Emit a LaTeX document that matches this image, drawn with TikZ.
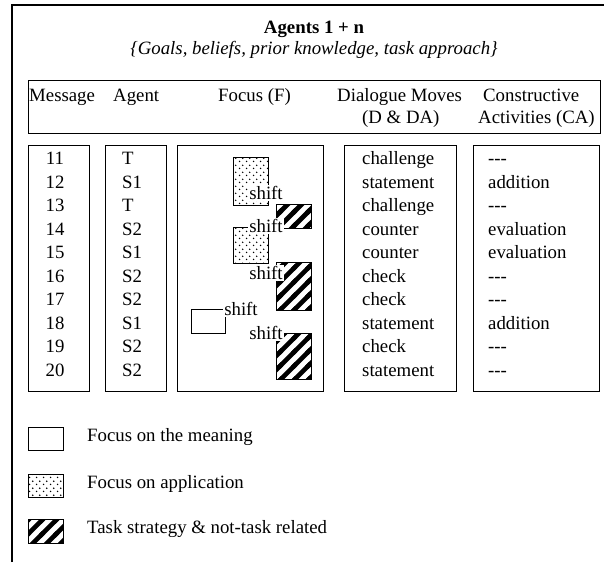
\documentclass[tikz,border=0pt]{standalone}
\usepackage{fontspec}
\setmainfont{Liberation Serif}
\usetikzlibrary{patterns.meta}

% sparse staggered dots for "focus on application"
\tikzdeclarepattern{
  name=sparsedots,
  type=uncolored,
  bounding box={(0pt,0pt) and (7pt,7pt)},
  tile size={(7pt,7pt)},
  code={\fill (1.75pt,1.75pt) circle (0.9pt); \fill (5.25pt,5.25pt) circle (0.9pt);}
}
% heavy diagonal stripes for "task strategy"
\tikzdeclarepattern{
  name=widestripes,
  type=uncolored,
  bounding box={(-3pt,-3pt) and (17pt,17pt)},
  tile size={(14pt,14pt)},
  code={\draw[line width=4.6pt] (-3pt,-3pt) -- (17pt,17pt);}
}

\newcommand\bodysize{\fontsize{18.8}{23.5}\selectfont}
\newcommand\nodash{-{}-{}-}

\tikzset{
  frameline/.style={line width=1.4pt},
  colbox/.style={draw, line width=1.3pt, anchor=north west, inner sep=0pt},
  txt/.style={font=\bodysize, inner sep=0pt, anchor=base west},
  num/.style={font=\bodysize, inner sep=0pt, anchor=base},
  plainbox/.style={draw, line width=1.3pt, fill=white, anchor=north west, inner sep=0pt},
  dotbox/.style={plainbox, pattern=sparsedots},
  stripebox/.style={plainbox, pattern=widestripes},
  shiftlabel/.style={font=\bodysize, fill=white, inner sep=1.2pt},
}

\begin{document}
\begin{tikzpicture}[x=1pt, y=-1pt]
\useasboundingbox (0,0) rectangle (604,562);

% open outer frame (left and top sides only)
\draw[frameline] (12,562) -- (12,5) -- (604,5);

% title block
\node[font=\bodysize\bfseries, inner sep=0pt, anchor=base] (title) at (314,33) {Agents 1 + n};
\node[font=\bodysize\itshape, inner sep=0pt, anchor=base] (subtitle) at (314,54)
  {\{Goals, beliefs, prior knowledge, task approach\}};

% column header box
\node[colbox, minimum width=572, minimum height=53] (head) at (28,80) {};
\node[txt] (hmsg) at (29,101) {Message};
\node[txt] (hagent) at (113,101) {Agent};
\node[txt] (hfocus) at (218,101) {Focus (F)};
\node[txt] (hdlg) at (337,101) {Dialogue Moves};
\node[txt] (hdlg2) at (362,123) {(D \& DA)};
\node[txt] (hca) at (483,101) {Constructive};
\node[txt] (hca2) at (478,123) {Activities (CA)};

% column boxes
\node[colbox, minimum width=61, minimum height=246] (msgbox) at (28,145) {};
\node[colbox, minimum width=61, minimum height=246] (agentbox) at (105,145) {};
\node[colbox, minimum width=146, minimum height=246] (focusbox) at (177,145) {};
\node[colbox, minimum width=112, minimum height=246] (dlgbox) at (344,145) {};
\node[colbox, minimum width=126, minimum height=246] (cabox) at (473,145) {};

% table rows
\foreach \i/\m/\a/\d/\c in {
  1/11/T/challenge/\nodash,
  2/12/S1/statement/addition,
  3/13/T/challenge/\nodash,
  4/14/S2/counter/evaluation,
  5/15/S1/counter/evaluation,
  6/16/S2/check/\nodash,
  7/17/S2/check/\nodash,
  8/18/S1/statement/addition,
  9/19/S2/check/\nodash,
  10/20/S2/statement/\nodash}{
  \pgfmathsetmacro\yy{164.5+23.5*(\i-1)}
  \node[num] (m\i) at (55,\yy) {\m};
  \node[txt] (a\i) at (122,\yy) {\a};
  \node[txt] (d\i) at (362,\yy) {\d};
  \node[txt] (c\i) at (488,\yy) {\c};
}

% focus blocks
\node[dotbox, minimum width=35, minimum height=48] (f1) at (233,157) {};
\node[stripebox, minimum width=35, minimum height=24] (f2) at (276,204) {};
\node[dotbox, minimum width=35, minimum height=36] (f3) at (233,227) {};
\node[stripebox, minimum width=35, minimum height=48] (f4) at (276,262) {};
\node[plainbox, minimum width=34, minimum height=24] (f5) at (191,309) {};
\node[stripebox, minimum width=35, minimum height=46] (f6) at (276,333) {};

% shift markers
\node[shiftlabel] (s1) at (266,193) {shift};
\node[shiftlabel] (s2) at (266,226) {shift};
\node[shiftlabel] (s3) at (266,273) {shift};
\node[shiftlabel] (s4) at (241,309) {shift};
\node[shiftlabel] (s5) at (266,333) {shift};

% legend
\node[plainbox, minimum width=35, minimum height=23] (k1) at (28,427) {};
\node[dotbox, minimum width=35, minimum height=23] (k2) at (28,474) {};
\node[stripebox, minimum width=35, minimum height=24] (k3) at (28,519) {};
\node[txt] (l1) at (87,441) {Focus on the meaning};
\node[txt] (l2) at (87,488) {Focus on application};
\node[txt] (l3) at (87,533) {Task strategy \& not-task related};
\end{tikzpicture}
\end{document}
